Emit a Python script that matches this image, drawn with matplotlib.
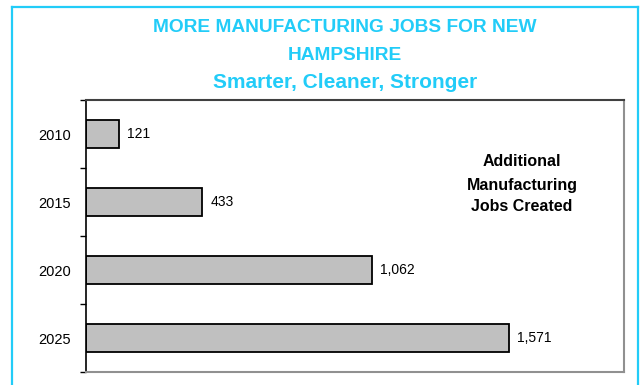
import matplotlib
matplotlib.use('Agg')
import matplotlib.pyplot as plt
from matplotlib.lines import Line2D

# data
years = ['2010', '2015', '2020', '2025']
jobs = [121, 433, 1062, 1571]
value_labels = ['121', '433', '1,062', '1,571']

W, H = 644, 385
cyan = '#22CCF8'

plt.rcParams['font.family'] = ['Liberation Sans', 'DejaVu Sans']

fig = plt.figure(figsize=(W / 100, H / 100), dpi=100)


def fx(px):
    return px / W


def fy(py):
    return 1 - py / H


# cyan frame around the chart (bottom edge is cut off in the original)
fig.add_artist(Line2D([fx(12), fx(12)], [fy(7), 0], color=cyan, lw=1.6))
fig.add_artist(Line2D([fx(12), fx(638)], [fy(7), fy(7)], color=cyan, lw=1.6))
fig.add_artist(Line2D([fx(638), fx(638)], [fy(7), 0], color=cyan, lw=1.6))

ax = fig.add_axes([fx(86), fy(372), fx(624) - fx(86), fy(100) - fy(372)])

pos = list(range(len(years)))
ax.barh(pos, jobs, height=0.41, color='#C0C0C0', edgecolor='black', linewidth=1.3)
for p, v, lab in zip(pos, jobs, value_labels):
    ax.annotate(lab, (v, p), xytext=(6, 0), textcoords='offset points',
                va='center', ha='left', fontsize=10)

ax.set_xlim(0, 2000)
ax.set_ylim(3.5, -0.5)
ax.set_xticks([])
ax.set_yticks(pos)
ax.set_yticklabels(years, fontsize=10.5)
ax.tick_params(axis='y', which='major', length=0, pad=11)
ax.set_yticks([-0.5, 0.5, 1.5, 2.5, 3.5], minor=True)
ax.tick_params(axis='y', which='minor', length=4.5, width=1, color='black')

ax.spines['left'].set_color('black')
ax.spines['left'].set_linewidth(1.2)
ax.spines['top'].set_color('#404040')
ax.spines['right'].set_color('#909090')
ax.spines['bottom'].set_color('#909090')
for s in ['top', 'right', 'bottom']:
    ax.spines[s].set_linewidth(1.5)

# titles
fig.text(fx(345), fy(27), 'MORE MANUFACTURING JOBS FOR NEW', color=cyan,
         fontsize=13.8, fontweight='bold', ha='center', va='center')
fig.text(fx(345), fy(55), 'HAMPSHIRE', color=cyan,
         fontsize=13.8, fontweight='bold', ha='center', va='center')
fig.text(fx(345), fy(83), 'Smarter, Cleaner, Stronger', color=cyan,
         fontsize=15, fontweight='bold', ha='center', va='center')

# in-chart note
for txt, y in zip(['Additional', 'Manufacturing', 'Jobs Created'], [162, 185, 207]):
    fig.text(fx(522), fy(y), txt, fontsize=11.5, fontweight='bold',
             ha='center', va='center')

fig.savefig('out.png', dpi=100)
